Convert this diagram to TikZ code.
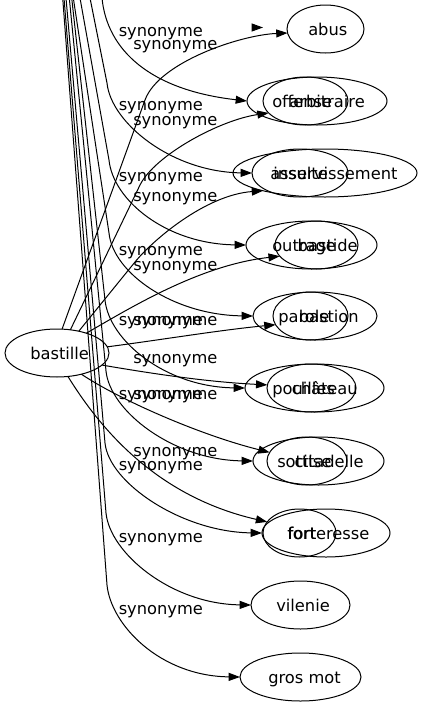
\documentclass[tikz,border=0pt]{standalone}
\usepackage{fontspec}
\setmainfont{DejaVu Sans}
\usetikzlibrary{shapes.geometric,arrows.meta}
\begin{document}
\begin{tikzpicture}[x=0.75pt,y=-0.75pt,
  every node/.style={font=\fontsize{12.2pt}{14pt}\selectfont},
  ell/.style={draw, ellipse, line width=0.75pt, inner sep=0pt, outer sep=0pt, minimum height=48*0.75pt},
  wtxt/.style={inner sep=0pt, anchor=base west},
  etxt/.style={inner sep=0pt, anchor=base east},
  lbl/.style={inner sep=0pt, anchor=base west},
  conn/.style={line width=0.75pt, -{Triangle[length=8.5pt,width=6pt]}}]
\useasboundingbox (0,0) rectangle (423,707);
% ellipses
\node[ell, minimum width=104*0.75pt] (bast) at (57,353) {};
\node[ell, minimum width=77*0.75pt] (abus) at (325.5,29) {};
\node[ell, minimum width=140*0.75pt] (r2o) at (317,101) {};
\node[ell, minimum width=85*0.75pt] (r2i) at (305.5,101) {};
\node[ell, minimum width=184*0.75pt] (r3o) at (325,173) {};
\node[ell, minimum width=96*0.75pt] (r3i) at (300,173) {};
\node[ell, minimum width=131*0.75pt] (r4o) at (311.5,245) {};
\node[ell, minimum width=83*0.75pt] (r4i) at (316.5,245) {};
\node[ell, minimum width=124*0.75pt] (r5o) at (315,316) {};
\node[ell, minimum width=75*0.75pt] (r5i) at (310.5,316) {};
\node[ell, minimum width=139*0.75pt] (r6o) at (314.5,388) {};
\node[ell, minimum width=89*0.75pt] (r6i) at (311.5,388) {};
\node[ell, minimum width=131*0.75pt] (r7o) at (318.5,461) {};
\node[ell, minimum width=80*0.75pt] (r7i) at (307,461) {};
\node[ell, minimum width=128*0.75pt] (r8o) at (326,533) {};
\node[ell, minimum width=73*0.75pt] (r8i) at (299.5,533) {};
\node[ell, minimum width=99*0.75pt] (vil) at (300.5,605) {};
\node[ell, minimum width=121*0.75pt] (gros) at (300.5,677) {};
% texts
\node[wtxt] (tbas) at (30,359) {bastille};
\node[wtxt] (tabus) at (308,35) {abus};
\node[wtxt] (toff) at (272,107) {offense};
\node[etxt] (tarb) at (365,107) {arbitraire};
\node[wtxt] (tass) at (270,179) {asservissement};
\node[wtxt] (tins) at (273,179) {insulte};
\node[wtxt] (tout) at (272,251) {outrage};
\node[etxt] (tbsd) at (358,251) {bastide};
\node[wtxt] (tpar) at (278,322) {parole};
\node[etxt] (tbsn) at (359,322) {bastion};
\node[wtxt] (tpou) at (272,394) {pouilles};
\node[etxt] (tcha) at (358,394) {château};
\node[wtxt] (tsot) at (277,467) {sottise};
\node[etxt] (tcit) at (364,467) {citadelle};
\node[wtxt] (tfte) at (287,539) {forteresse};
\node[wtxt] (tfrt) at (287.6,539) {fort};
\node[wtxt] (tvil) at (276,611) {vilenie};
\node[wtxt] (tgro) at (268,683) {gros mot};
% free ends at the top
\coordinate (s2) at (102,-2);
\coordinate (s3) at (90,-2);
\coordinate (s4) at (80,-2);
\coordinate (s5) at (73.3,-2);
\coordinate (s6) at (71.7,-2);
\coordinate (s7) at (69.3,-2);
\coordinate (s8) at (66,-2);
\coordinate (s9) at (64,-2);
\coordinate (s10) at (62.7,-2);
\coordinate (iso1) at (252,27.5);
\coordinate (iso2) at (263,27.5);
% edges from the top
\draw[conn] (iso1) -- (iso2);
\draw[conn] (s2) .. controls (107,50) and (150,90) .. (r2o.west);
\draw[conn] (s3) -- (107,83) .. controls (111,123) and (172,172) .. (r3i.west);
\draw[conn] (s4) -- (109,160) .. controls (113,200) and (166,244) .. (r4o.west);
\draw[conn] (s5) -- (109,233) .. controls (113,273) and (173,315) .. (r5o.west);
\draw[conn] (s6) -- (105,300) .. controls (109,340) and (165,387) .. (r6o.west);
\draw[conn] (s7) -- (106,371) .. controls (110,411) and (173,460) .. (r7o.west);
\draw[conn] (s8) -- (105,443) .. controls (109,483) and (182,532) .. (r8o.west);
\draw[conn] (s9) -- (106,513) .. controls (110,553) and (171,604) .. (vil.west);
\draw[conn] (s10) -- (107,585) .. controls (111,625) and (160,676) .. (gros.west);
% edges from bastille
\draw[conn] (bast.78) -- (145,100) .. controls (158.8,62.4) and (240,35) .. (abus.186);
\draw[conn] (bast.60.5) -- (140,185) .. controls (155,155) and (220,120) .. (r2i.198);
\draw[conn] (bast.45) -- (135,262) .. controls (152,241) and (205,195) .. (r3o.196);
\draw[conn] (bast.34) .. controls (130,308) and (200,265) .. (r4i.197);
\draw[conn] (bast.7) .. controls (160,340) and (220,330) .. (r5i.194);
\draw[conn] (bast.-15) .. controls (160,375) and (210,382) .. (r6i.176);
\draw[conn] (bast.-41) .. controls (120,400) and (200,435) .. (r7i.167);
\draw[conn] (bast.-65) .. controls (95,420) and (150,495) .. (r8i.161);
% labels
\node[lbl] (l1) at (118.5,36) {synonyme};
\node[lbl] (l2) at (118.5,110) {synonyme};
\node[lbl] (l3) at (118.5,181) {synonyme};
\node[lbl] (l4) at (118.5,255) {synonyme};
\node[lbl] (l5) at (118.5,325) {synonyme};
\node[lbl] (l6) at (118.5,399) {synonyme};
\node[lbl] (l7) at (118.5,470) {synonyme};
\node[lbl] (l8) at (118.5,542) {synonyme};
\node[lbl] (l9) at (118.5,614) {synonyme};
\node[lbl] (m1) at (133,49) {synonyme};
\node[lbl] (m2) at (133,125) {synonyme};
\node[lbl] (m3) at (133,201) {synonyme};
\node[lbl] (m4) at (133,270) {synonyme};
\node[lbl] (m5) at (133,325) {synonyme};
\node[lbl] (m6) at (133,363) {synonyme};
\node[lbl] (m7) at (133,399) {synonyme};
\node[lbl] (m8) at (133,456) {synonyme};
\end{tikzpicture}
\end{document}
